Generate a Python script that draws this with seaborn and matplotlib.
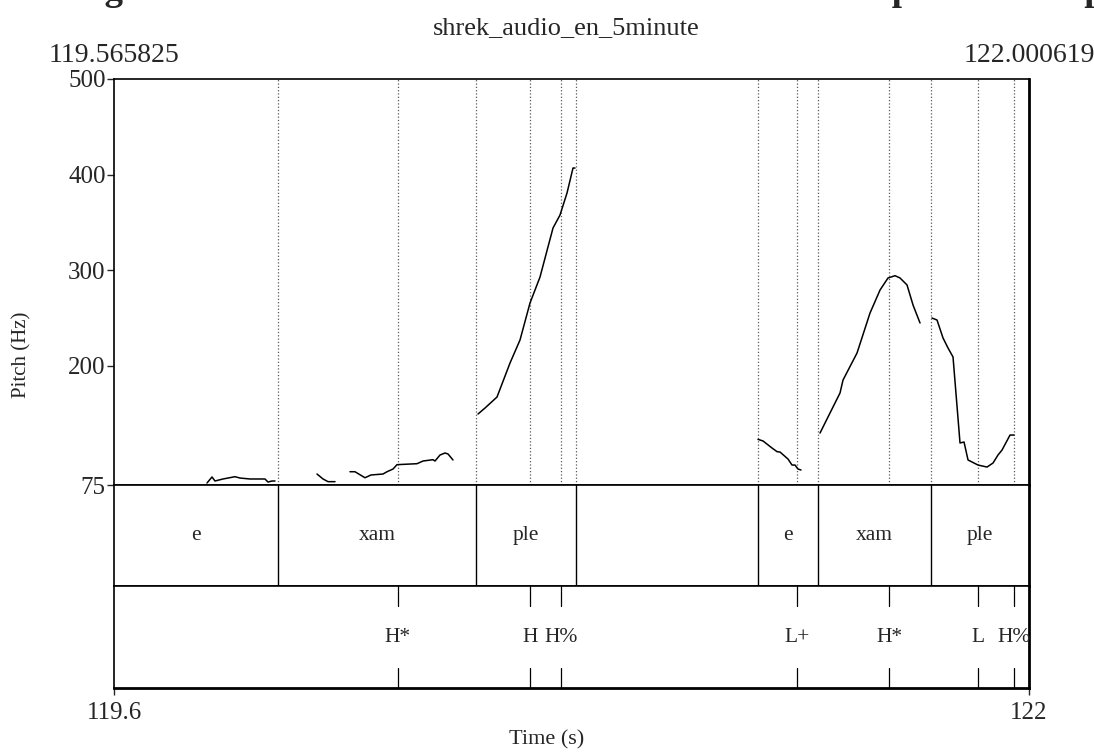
import numpy as np
import pandas as pd
import seaborn as sns
import matplotlib.pyplot as plt

# время отрезка (с)
t_start = 119.565825
t_end = 122.000619

# первый уровень разметки: слоги
word_bounds = [119.565825, 120.0022, 120.5291, 120.7952, 121.2795, 121.4392, 121.7399, 122.000619]
word_labels = ['e', 'xam', 'ple', '', 'e', 'xam', 'ple']

# второй уровень: тоны (ToBI)
tone_times = [120.3215, 120.6728, 120.7553, 121.3833, 121.6281, 121.8649, 121.9607]
tone_labels = ['H*', 'H', 'H%', 'L+', 'H*', 'L', 'H%']

# кривая ЧОТ по кускам
seg1_t = [119.8133, 119.8266, 119.8346, 119.8559, 119.8878, 119.9011, 119.9277, 119.9676, 119.9756, 119.9863, 119.9942]
seg1_hz = [77.1, 83.4, 79.2, 81.3, 83.7, 82.3, 81.3, 81.3, 78.1, 79.2, 79.2]
seg2_t = [120.1060, 120.1220, 120.1353, 120.1539]
seg2_hz = [86.5, 81.3, 78.5, 78.5]
seg3_t = [120.1938, 120.2071, 120.2337, 120.2497, 120.2816, 120.2923, 120.3082, 120.3189,
          120.3721, 120.3881, 120.4147, 120.4200, 120.4333, 120.4466, 120.4546, 120.4679]
seg3_hz = [88.9, 88.9, 82.6, 85.5, 86.5, 88.9, 91.7, 96.3, 97.3, 100.1, 101.5, 100.1, 106.4, 108.5, 107.5, 101.2]
seg4_t = [120.5344, 120.5531, 120.5850, 120.6196, 120.6462, 120.6728, 120.6994, 120.7340,
          120.7526, 120.7713, 120.7872, 120.7925]
seg4_hz = [149.3, 155.6, 167.1, 202.7, 226.8, 265.5, 292.7, 344.0, 357.6, 380.7, 406.8, 406.8]
seg5_t = [121.2795, 121.2928, 121.3168, 121.3301, 121.3381, 121.3593, 121.3700, 121.3780, 121.3859, 121.3939]
seg5_hz = [122.8, 121.1, 113.7, 109.9, 109.5, 102.2, 95.9, 95.9, 91.7, 90.7]
seg6_t = [121.4445, 121.4711, 121.4977, 121.5057, 121.5430, 121.5775, 121.6042, 121.6254,
          121.6441, 121.6574, 121.6760, 121.6920, 121.7106]
seg6_hz = [129.4, 150.4, 171.3, 184.9, 213.2, 255.0, 279.1, 291.7, 294.1, 291.7, 284.4, 263.4, 244.6]
seg7_t = [121.7425, 121.7558, 121.7718, 121.7851, 121.7984, 121.8170, 121.8277, 121.8383,
          121.8649, 121.8889, 121.9048, 121.9181, 121.9288, 121.9501, 121.9607]
seg7_hz = [249.8, 247.7, 228.9, 218.4, 209.0, 119.0, 120.0, 101.2, 95.9, 93.8, 98.0, 106.4, 111.6, 127.3, 127.3]

segs = [(seg1_t, seg1_hz), (seg2_t, seg2_hz), (seg3_t, seg3_hz), (seg4_t, seg4_hz),
        (seg5_t, seg5_hz), (seg6_t, seg6_hz), (seg7_t, seg7_hz)]
pitch = pd.concat([pd.DataFrame({'Time': t, 'Pitch': hz, 'seg': i}) for i, (t, hz) in enumerate(segs)])

sns.set_style('white')
plt.rcParams['font.family'] = ['Liberation Serif', 'DejaVu Serif']
plt.rcParams['font.size'] = 15

fig = plt.figure(figsize=(10.94, 7.53), dpi=100)
ax = fig.add_axes([0.1042, 0.3559, 0.8364, 0.5392])
ax1 = fig.add_axes([0.1042, 0.2218, 0.8364, 0.1341])
ax2 = fig.add_axes([0.1042, 0.0863, 0.8364, 0.1355])

# график ЧОТ
for t in word_bounds[1:-1] + tone_times:
    ax.axvline(t, ls=':', color='0.35', lw=0.9)
sns.lineplot(data=pitch, x='Time', y='Pitch', units='seg', estimator=None,
             color='black', lw=1.1, ax=ax)
ax.set_xlim(t_start, t_end)
ax.set_ylim(75, 500)
ax.set_yticks([75, 200, 300, 400, 500])
ax.set_xticks([])
ax.set_xlabel('')
ax.set_ylabel('')
ax.tick_params(axis='y', direction='out', length=5, width=1, left=True, labelsize=18, pad=1)

# слоги
for i, lab in enumerate(word_labels):
    if i > 0:
        ax1.axvline(word_bounds[i], color='black', lw=1)
    ax1.text((word_bounds[i] + word_bounds[i + 1]) / 2, 0.5, lab, ha='center', va='center', fontsize=15.5)
ax1.set_xlim(t_start, t_end)
ax1.set_ylim(0, 1)
ax1.set_xticks([])
ax1.set_yticks([])

# тоны
for t, lab in zip(tone_times, tone_labels):
    ax2.axvline(t, ymin=0.8, ymax=1, color='black', lw=0.9)
    ax2.axvline(t, ymin=0, ymax=0.2, color='black', lw=0.9)
    ax2.text(t, 0.5, lab, ha='center', va='center', fontsize=15.5)
ax2.set_xlim(t_start, t_end)
ax2.set_ylim(0, 1)
ax2.set_yticks([])
ax2.set_xticks([t_start, t_end])
ax2.set_xticklabels(['119.6', '122'])
ax2.tick_params(axis='x', direction='out', length=5, width=1, bottom=True, labelsize=18, pad=5)

for a in [ax, ax1, ax2]:
    for s in a.spines.values():
        s.set_color('black')
        s.set_linewidth(1.2)
ax2.spines['bottom'].set_linewidth(2)
ax.spines['right'].set_linewidth(2)
ax1.spines['right'].set_linewidth(2)
ax2.spines['right'].set_linewidth(2)

fig.text(0.5, 0.0175, 'Time (s)', ha='center', va='center', fontsize=16)
fig.text(0.02, 0.529, 'Pitch (Hz)', ha='center', va='center', rotation=90, fontsize=15)
fig.text(0.518, 0.963, 'shrek_audio_en_5minute', ha='center', va='center', fontsize=19)
fig.text(0.1042, 0.926, '119.565825', ha='center', va='center', fontsize=20)
fig.text(0.9406, 0.926, '122.000619', ha='center', va='center', fontsize=20)

# заголовок почти целиком за краем картинки, видны только хвосты букв
fig.text(-0.0924, 1.0, 'Pitch tracking of the rise in the first EXAMPLE and the final up to the last peak',
         ha='left', va='baseline', fontsize=26.6, fontweight='bold')

fig.savefig('out.png', dpi=100)
